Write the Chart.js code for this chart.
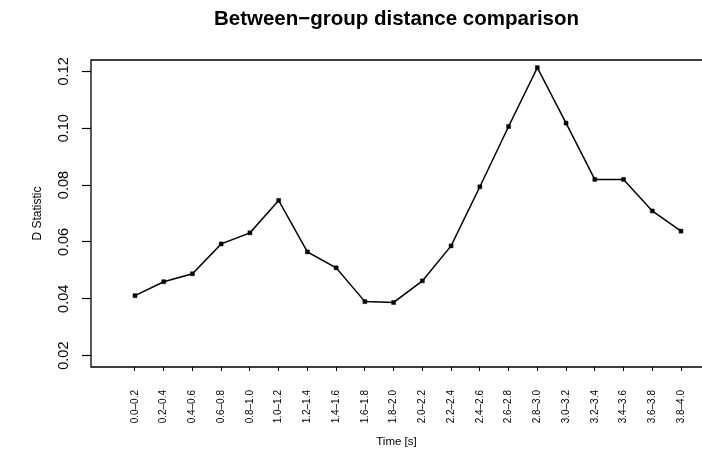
<!DOCTYPE html>
<html>
<head>
<meta charset="utf-8">
<title>Between-group distance comparison</title>
<script src="https://cdn.jsdelivr.net/npm/chart.js@4/dist/chart.umd.min.js"></script>
<style>
  html, body { margin: 0; padding: 0; background: #ffffff; }
  #wrap { width: 702px; height: 454px; }
</style>
</head>
<body>
<div id="wrap"><canvas id="chart" width="702" height="454"></canvas></div>
<script>
// Time windows (x categories)
const timeBins = [
  '0.0–0.2', '0.2–0.4', '0.4–0.6', '0.6–0.8', '0.8–1.0',
  '1.0–1.2', '1.2–1.4', '1.4–1.6', '1.6–1.8', '1.8–2.0',
  '2.0–2.2', '2.2–2.4', '2.4–2.6', '2.6–2.8', '2.8–3.0',
  '3.0–3.2', '3.2–3.4', '3.4–3.6', '3.6–3.8', '3.8–4.0'
];

// D statistic for each time window
const dStatistic = [
  0.0411, 0.0460, 0.0488, 0.0593, 0.0632,
  0.0746, 0.0565, 0.0509, 0.0390, 0.0387,
  0.0463, 0.0586, 0.0794, 0.1006, 0.1213,
  0.1018, 0.0820, 0.0820, 0.0709, 0.0638
];

// Y axis tick values
const yTickValues = [0.02, 0.04, 0.06, 0.08, 0.10, 0.12];

const FONT = '"Liberation Sans", Arial, Helvetica, sans-serif';

// Box around the plot region (left, top and bottom edges; right edge lies past the canvas)
const plotBox = {
  id: 'plotBox',
  afterDatasetsDraw(chart) {
    const { ctx, chartArea: a } = chart;
    ctx.save();
    ctx.strokeStyle = '#000';
    ctx.lineWidth = 1.3;
    ctx.beginPath();
    ctx.moveTo(a.right + 30, a.top);
    ctx.lineTo(a.left, a.top);
    ctx.lineTo(a.left, a.bottom);
    ctx.lineTo(a.right + 30, a.bottom);
    ctx.stroke();
    ctx.restore();
  }
};

// Y tick labels written parallel to the axis
const yTickLabels = {
  id: 'yTickLabels',
  afterDraw(chart) {
    const { ctx } = chart;
    const y = chart.scales.y;
    ctx.save();
    ctx.fillStyle = '#000';
    ctx.font = '14.5px ' + FONT;
    ctx.textAlign = 'center';
    ctx.textBaseline = 'alphabetic';
    y.ticks.forEach(t => {
      const py = y.getPixelForValue(t.value);
      ctx.save();
      ctx.translate(y.right - 23, py);
      ctx.rotate(-Math.PI / 2);
      ctx.fillText(t.value.toFixed(2), 0, 0);
      ctx.restore();
    });
    ctx.restore();
  }
};

const chart = new Chart(document.getElementById('chart'), {
  type: 'line',
  data: {
    datasets: [{
      label: 'D Statistic',
      data: dStatistic.map((v, i) => ({ x: i + 1, y: v })),
      borderColor: '#000',
      backgroundColor: '#000',
      borderWidth: 1.5,
      pointStyle: 'rect',
      pointRadius: 2.8,
      pointBorderWidth: 0.5,
      pointBackgroundColor: '#000',
      pointBorderColor: '#000',
      tension: 0,
      fill: false
    }]
  },
  options: {
    responsive: false,
    animation: false,
    devicePixelRatio: 1,
    layout: { autoPadding: false, padding: { left: 0, right: 0, top: 0, bottom: 0 } },
    plugins: {
      legend: { display: false },
      tooltip: { enabled: false },
      title: {
        display: true,
        fullSize: false,
        text: 'Between−group distance comparison',
        color: '#000',
        font: { family: FONT, size: 20.5, weight: 'bold', lineHeight: 1.2 },
        padding: { top: 7, bottom: 28.4 }
      }
    },
    scales: {
      x: {
        type: 'linear',
        min: -0.53,
        max: 20.73,
        afterBuildTicks(scale) {
          scale.ticks = timeBins.map((_, i) => ({ value: i + 1 }));
        },
        afterFit(scale) {
          scale.height = 87;
          scale.paddingLeft = 0;
          scale.paddingRight = 0;
        },
        ticks: {
          autoSkip: false,
          minRotation: 90,
          maxRotation: 90,
          padding: 19,
          color: '#000',
          font: { family: FONT, size: 10 },
          callback: v => timeBins[v - 1]
        },
        grid: {
          drawOnChartArea: false,
          drawTicks: true,
          tickLength: 4,
          tickWidth: 1,
          tickColor: '#000'
        },
        border: { display: false },
        title: {
          display: true,
          text: 'Time [s]',
          color: '#000',
          font: { family: FONT, size: 11.5 },
          padding: { top: 0, bottom: 5 }
        }
      },
      y: {
        type: 'linear',
        min: 0.016,
        max: 0.124,
        afterBuildTicks(scale) {
          scale.ticks = yTickValues.map(v => ({ value: v }));
        },
        afterFit(scale) {
          scale.width = 91;
          scale.paddingTop = 0;
          scale.paddingBottom = 0;
        },
        ticks: {
          display: true,
          color: 'rgba(0,0,0,0)',
          font: { family: FONT, size: 1 },
          callback: v => v.toFixed(2)
        },
        grid: {
          drawOnChartArea: false,
          drawTicks: true,
          tickLength: 9,
          tickWidth: 1.2,
          tickColor: '#000'
        },
        border: { display: false },
        title: {
          display: true,
          text: 'D Statistic',
          color: '#000',
          font: { family: FONT, size: 12 },
          padding: { top: 30, bottom: 0 }
        }
      }
    }
  },
  plugins: [plotBox, yTickLabels]
});
</script>
</body>
</html>
